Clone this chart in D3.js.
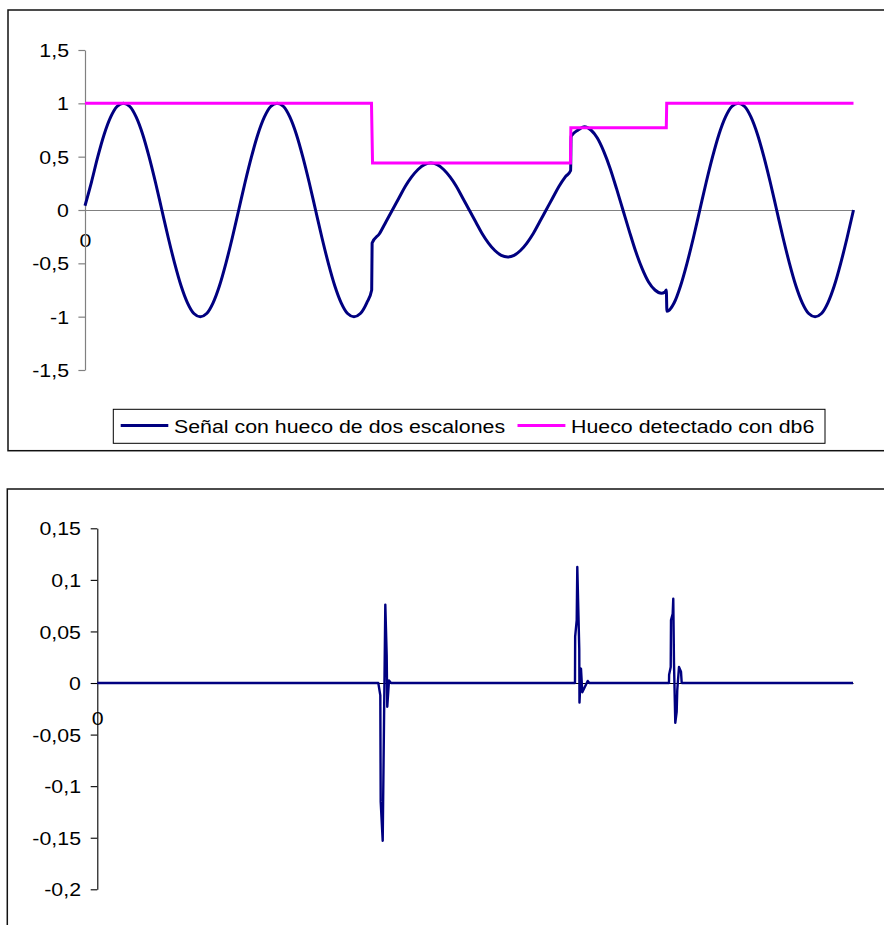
<!DOCTYPE html>
<html><head><meta charset="utf-8">
<script src="https://cdn.jsdelivr.net/npm/d3@7"></script>
<style>
html,body{margin:0;padding:0;background:#fff;}
text{font-family:"Liberation Sans",Arial,Helvetica,sans-serif;fill:#000;}
</style>
</head><body>
<svg id="c" width="884" height="925"></svg>
<script>
// ---------- data (x in sample-degrees of the 5-cycle record) ----------
const signalX = [0,15,30,45,60,75,90,105,120,135,150,165,180,195,210,225,240,255,270,285,300,315,330,345,
  360,375,390,405,420,435,450,465,480,495,510,525,540,555,570,585,600,615,630,645,660,671.5,
  672.5,690,705,720,735,750,765,780,795,810,825,840,855,870,885,900,915,930,945,960,975,990,1005,1020,1035,1050,1065,1080,1095,1110,1125,1137.5,
  1138.5,1155,1170,1185,1200,1215,1230,1245,1260,1275,1290,1305,1320,1335,1350,1358,1361.5,
  1363,1380,1395,1410,1425,1440,1455,1470,1485,1500,1515,1530,1545,1560,1575,1590,1605,1620,1635,1650,1665,1680,1695,1710,1725,1740,1755,1770,1785,1800];
const signalY = [0.04,0.26,0.50,0.71,0.87,0.97,1.00,0.97,0.87,0.71,0.50,0.26,0.00,-0.26,-0.50,-0.71,-0.87,-0.97,-1.00,-0.97,-0.87,-0.71,-0.50,-0.26,
  0.00,0.26,0.50,0.71,0.87,0.97,1.00,0.97,0.87,0.71,0.50,0.26,0.00,-0.26,-0.50,-0.71,-0.87,-0.97,-1.00,-0.97,-0.87,-0.75,
  -0.31,-0.22,-0.11,0.00,0.11,0.22,0.31,0.38,0.425,0.44,0.425,0.38,0.31,0.22,0.11,0.00,-0.11,-0.22,-0.31,-0.38,-0.425,-0.44,-0.425,-0.38,-0.31,-0.22,-0.11,0.00,0.11,0.22,0.31,0.37,
  0.69,0.75,0.78,0.75,0.675,0.55,0.39,0.20,0.00,-0.20,-0.39,-0.55,-0.675,-0.75,-0.78,-0.77,-0.75,
  -0.95,-0.87,-0.71,-0.50,-0.26,0.00,0.26,0.50,0.71,0.87,0.97,1.00,0.97,0.87,0.71,0.50,0.26,0.00,-0.26,-0.50,-0.71,-0.87,-0.97,-1.00,-0.97,-0.87,-0.71,-0.50,-0.26,0.00];

const detectedX = [0,671,673.5,1137,1138,1361.5,1362.5,1800];
const detectedY = [1,1,0.44,0.44,0.77,0.77,1,1];

const detailX = [0,669.3,674.1,675.0,679.8,686.0,689.3,690.7,694.8,699.6,
  1137.8,1138.2,1141.9,1143.3,1148.0,1148.5,1152.1,1155.2,1168.1,1171.9,
  1361.7,1362.0,1365.8,1366.5,1370.5,1371.9,1373.6,1376.7,1380.0,1381.4,1385.5,1390.3,1392.0,1800];
const detailY = [0,0,-0.012,-0.115,-0.153,0.076,0.027,-0.023,0.0025,0,
  0,0.045,0.061,0.1125,0.033,-0.019,0.014,-0.009,0.002,0,
  0,0.008,0.0155,0.061,0.067,0.0817,0.020,-0.0385,-0.028,-0.007,0.0155,0.011,0,0];

const topTicks = [-1.5,-1,-0.5,0,0.5,1,1.5];
const bottomTicks = [-0.2,-0.15,-0.1,-0.05,0,0.05,0.1,0.15];
const categoryLabels = ["0"];
const seriesNames = ["Señal con hueco de dos escalones","Hueco detectado con db6"];
const seriesColors = ["#000080","#ff00ff"];

// ---------- drawing ----------
const FS = 18.7, SX = 1.142;
const fmt = v => String(v).replace('.', ',');
const svg = d3.select('#c');

function stretchText(sel){
  sel.each(function(){
    const t = d3.select(this);
    const x = +t.attr('x') || 0;
    t.attr('x', x / SX).attr('transform', `scale(${SX},1)`);
  });
}
function label(x, y, str, anchor){
  return svg.append('text').attr('transform', `translate(${x},${y}) scale(${SX},1)`)
    .attr('text-anchor', anchor || 'start').style('font-size', FS + 'px').text(str);
}

// frames
svg.append('rect').attr('x', 8).attr('y', 10).attr('width', 920).attr('height', 440.7)
  .attr('fill', 'none').attr('stroke', '#111').attr('stroke-width', 1.5);
svg.append('rect').attr('x', 7.3).attr('y', 489).attr('width', 920).attr('height', 480)
  .attr('fill', 'none').attr('stroke', '#111').attr('stroke-width', 1.5);

// ---- top chart ----
const xT = d3.scaleLinear().domain([0, 1800]).range([85, 853.5]);
const yT = d3.scaleLinear().domain([-1.5, 1.5]).range([370, 50]);

const xAxT = svg.append('g').attr('transform', `translate(0,${yT(0)})`)
  .call(d3.axisBottom(xT).tickValues([0]).tickFormat(() => categoryLabels[0]).tickSize(0).tickSizeOuter(0));
xAxT.attr('font-family', null).attr('font-size', null);
xAxT.select('.domain').attr('stroke', '#808080').attr('stroke-width', 1.2);
xAxT.selectAll('.tick text').attr('y', 37.3).attr('dy', null).style('font-size', FS + 'px').call(stretchText);

const yAxT = svg.append('g').attr('transform', `translate(${xT(0)},0)`)
  .call(d3.axisLeft(yT).tickValues(topTicks).tickFormat(fmt).tickSize(6.6).tickPadding(9.4).tickSizeOuter(0));
yAxT.attr('font-family', null).attr('font-size', null);
yAxT.select('.domain').attr('stroke', '#808080').attr('stroke-width', 1.2);
yAxT.selectAll('.tick line').attr('stroke', '#808080').attr('stroke-width', 1.2);
yAxT.selectAll('.tick text').attr('dy', null).attr('y', 6.65).style('font-size', FS + 'px').call(stretchText);

const sigData = signalX.map((t, i) => [t, signalY[i]]);
const detData = detectedX.map((t, i) => [t, detectedY[i]]);
svg.append('path').datum(sigData)
  .attr('d', d3.line().x(d => xT(d[0])).y(d => yT(d[1])).curve(d3.curveMonotoneX))
  .attr('fill', 'none').attr('stroke', seriesColors[0]).attr('stroke-width', 3).attr('stroke-linejoin', 'round');
svg.append('path').datum(detData)
  .attr('d', d3.line().x(d => xT(d[0])).y(d => yT(d[1])))
  .attr('fill', 'none').attr('stroke', seriesColors[1]).attr('stroke-width', 3);

// legend
svg.append('rect').attr('x', 113.3).attr('y', 409.3).attr('width', 711.7).attr('height', 34)
  .attr('fill', '#fff').attr('stroke', '#000').attr('stroke-width', 1);
svg.append('line').attr('x1', 120.7).attr('x2', 168.3).attr('y1', 425.5).attr('y2', 425.5)
  .attr('stroke', seriesColors[0]).attr('stroke-width', 3);
label(174, 432.6, seriesNames[0]);
svg.append('line').attr('x1', 517.5).attr('x2', 565.4).attr('y1', 425.5).attr('y2', 425.5)
  .attr('stroke', seriesColors[1]).attr('stroke-width', 3);
label(571, 432.6, seriesNames[1]);

// ---- bottom chart ----
const xB = d3.scaleLinear().domain([0, 1800]).range([97.3, 853]);
const yB = d3.scaleLinear().domain([-0.2, 0.15]).range([889.3, 528.3]);

const xAxB = svg.append('g').attr('transform', `translate(0,${yB(0)})`)
  .call(d3.axisBottom(xB).tickValues([0]).tickFormat(() => categoryLabels[0]).tickSize(0).tickSizeOuter(0));
xAxB.attr('font-family', null).attr('font-size', null);
xAxB.select('.domain').attr('stroke', '#000').attr('stroke-width', 1);
xAxB.selectAll('.tick text').attr('y', 42.4).attr('dy', null).style('font-size', FS + 'px').call(stretchText);

const yAxB = svg.append('g').attr('transform', `translate(${xB(0)},0)`)
  .call(d3.axisLeft(yB).tickValues(bottomTicks).tickFormat(fmt).tickSize(6.6).tickPadding(9.7).tickSizeOuter(0));
yAxB.attr('font-family', null).attr('font-size', null);
yAxB.select('.domain').attr('stroke', '#000').attr('stroke-width', 1.1);
yAxB.selectAll('.tick line').attr('stroke', '#000').attr('stroke-width', 1.1);
yAxB.selectAll('.tick text').attr('dy', null).attr('y', 6.65).style('font-size', FS + 'px').call(stretchText);

const detailData = detailX.map((t, i) => [t, detailY[i]]);
svg.append('path').datum(detailData)
  .attr('d', d3.line().x(d => xB(d[0])).y(d => yB(d[1])))
  .attr('fill', 'none').attr('stroke', seriesColors[0]).attr('stroke-width', 2.4).attr('stroke-linejoin', 'round');
</script>
</body></html>
